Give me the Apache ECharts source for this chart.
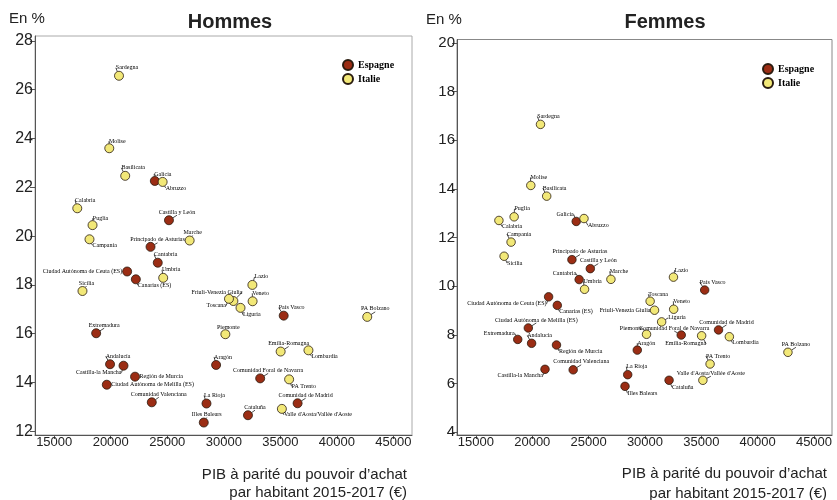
<!DOCTYPE html>
<html><head><meta charset="utf-8">
<script src="https://cdn.jsdelivr.net/npm/echarts@6/dist/echarts.min.js"></script>
<style>html,body{margin:0;padding:0;background:#fff}#c{width:837px;height:500px}</style>
</head><body><div id="c"></div>
<script>
// ---------- DATA ----------
const esNames = ['Galicia','Castilla y León','Principado de Asturias','Cantabria','Ciudad Autónoma de Ceuta (ES)','Canarias (ES)','Extremadura','Andalucía','Castilla-la Mancha','Región de Murcia','Ciudad Autónoma de Melilla (ES)','Comunidad Valenciana','Aragón','La Rioja','Illes Balears','País Vasco','Comunidad Foral de Navarra','Comunidad de Madrid','Cataluña'];
const esGdp    = [23900,25150,23520,24160,21450,22220,18710,19940,21130,22150,19650,23630,29320,28470,28230,35300,33220,36530,32140];
const esHommes = [22.26,20.65,19.56,18.91,18.55,18.23,16.02,14.75,14.69,14.24,13.91,13.19,14.72,13.14,12.36,16.74,14.17,13.15,12.66];
const esFemmes = [12.66,10.72,11.09,10.27,9.56,9.21,7.81,7.65,6.58,7.58,8.28,6.56,7.37,6.36,5.88,9.84,7.99,8.20,6.13];

const itNames = ['Sardegna','Molise','Basilicata','Abruzzo','Calabria','Puglia','Campania','Marche','Umbria','Sicilia','Piemonte','Friuli-Venezia Giulia','Toscana','Lazio','Veneto','Liguria','PA Bolzano','Emilia-Romagna','Lombardia','PA Trento',"Valle d'Aosta/Vallée d'Aoste"];
const itGdp    = [20730,19870,21280,24590,17040,18390,18120,26980,24640,17500,30140,30850,30460,32530,32550,31480,42690,35030,37490,35780,35140];
const itHommes = [26.57,23.6,22.47,22.22,21.14,20.45,19.87,19.82,18.29,17.75,15.98,17.34,17.43,18.0,17.33,17.06,16.69,15.27,15.32,14.13,12.92];
const itFemmes = [16.65,14.14,13.70,12.78,12.70,12.85,11.81,10.28,9.87,11.23,8.02,9.01,9.38,10.37,9.05,8.53,7.28,7.96,7.92,6.80,6.13];

const xTicks  = [15000,20000,25000,30000,35000,40000,45000];
const yTicksH = [12,14,16,18,20,22,24,26,28];
const yTicksF = [4,6,8,10,12,14,16,18,20];

// ---------- label placement (mode, dx, dy relative to dot) ----------
const labH = {
  'Galicia':['c',8,-7],'Castilla y León':['c',8,-8],'Principado de Asturias':['c',7,-7],'Cantabria':['c',8,-8],
  'Ciudad Autónoma de Ceuta (ES)':['r',-5,0],'Canarias (ES)':['l',2,6],'Extremadura':['c',8,-8],'Andalucía':['c',8,-8],
  'Castilla-la Mancha':['r',-2,7],'Región de Murcia':['l',4.5,0],'Ciudad Autónoma de Melilla (ES)':['l',4.5,0],
  'Comunidad Valenciana':['c',7,-8],'Aragón':['c',7,-8],'La Rioja':['c',8,-8],'Illes Balears':['c',3,-8],
  'País Vasco':['c',8,-8],'Comunidad Foral de Navarra':['c',8,-8],'Comunidad de Madrid':['c',8,-8],'Cataluña':['c',7,-8],
  'Sardegna':['c',8,-8],'Molise':['c',8,-7],'Basilicata':['c',8,-8],'Abruzzo':['l',3,6],'Calabria':['c',8,-8],
  'Puglia':['c',8,-7],'Campania':['l',3,6],'Marche':['c',3,-8],'Umbria':['c',8,-8],'Sicilia':['c',4,-8],
  'Piemonte':['c',3,-7],'Friuli-Venezia Giulia':['r',9,-9],'Toscana':['r',-3,7],'Lazio':['c',9,-8],'Veneto':['c',8,-8],
  'Liguria':['l',2.5,7],'PA Bolzano':['c',8,-8],'Emilia-Romagna':['c',8,-8],'Lombardia':['l',3,6],'PA Trento':['l',2.5,7],
  "Valle d'Aosta/Vallée d'Aoste":['l',2,6]
};
const labF = {
  'Galicia':['r',-2.5,-7],'Castilla y León':['c',8,-8],'Principado de Asturias':['c',8,-8],'Cantabria':['r',-3,-6],
  'Ciudad Autónoma de Ceuta (ES)':['r',-2,7],'Canarias (ES)':['l',2,6],'Extremadura':['r',-3,-6],'Andalucía':['c',8,-8],
  'Castilla-la Mancha':['r',-2,6],'Región de Murcia':['l',2.5,6],'Ciudad Autónoma de Melilla (ES)':['c',8,-8],
  'Comunidad Valenciana':['c',8,-8],'Aragón':['c',9,-7],'La Rioja':['c',9,-8],'Illes Balears':['l',2.5,7],
  'País Vasco':['c',8,-8],'Comunidad Foral de Navarra':['c',-7,-7],'Comunidad de Madrid':['c',8,-8],'Cataluña':['l',3,7],
  'Sardegna':['c',8,-8],'Molise':['c',8,-8],'Basilicata':['c',8,-8],'Abruzzo':['l',4,7],'Calabria':['l',3,6],
  'Puglia':['c',8,-8],'Campania':['c',8,-8],'Marche':['c',8,-8],'Umbria':['c',8,-8],'Sicilia':['l',3,7],
  'Piemonte':['r',-4,-6],'Friuli-Venezia Giulia':['r',-4,0],'Toscana':['c',8,-7],'Lazio':['c',8,-7],'Veneto':['c',8,-8],
  'Liguria':['l',6.5,-4],'PA Bolzano':['c',8,-8],'Emilia-Romagna':['c',-16,8],'Lombardia':['l',3,6],'PA Trento':['c',8,-8],
  "Valle d'Aosta/Vallée d'Aoste":['c',8,-7]
};

// ---------- build ----------
const chart = echarts.init(document.getElementById('c'), null, {renderer:'canvas'});
const COL_ES = '#9b2d14', COL_IT = '#f2e878', EDGE = '#2a1c10';
const SERIF = '"Liberation Serif", "DejaVu Serif", serif';
const SANS = '"Liberation Sans", Arial, sans-serif';

function mk(names, xs, ys){ return names.map((n,i)=>({name:n, value:[xs[i], ys[i]]})); }

function layoutFor(map){
  return function(p){
    const spec = map[p.text] || ['c',8,-8];
    const sc = p.rect.x + p.rect.width/2, sy = p.rect.y + p.rect.height/2;
    const lr = p.labelRect;
    let dx;
    if (spec[0]==='l') dx = sc + spec[1] - lr.x;
    else if (spec[0]==='r') dx = sc + spec[1] - (lr.x + lr.width);
    else dx = sc + spec[1] - (lr.x + lr.width/2);
    const dy = sy + spec[2] - (lr.y + lr.height/2);
    // leader line: from dot centre to nearest point of moved label box
    const nx = lr.x + dx, ny = lr.y + dy;
    const px = Math.min(Math.max(sc, nx + 1), nx + lr.width - 1);
    const py = Math.min(Math.max(sy, ny + 1), ny + lr.height - 1);
    return {dx: dx, dy: dy, labelLinePoints: [[sc, sy], [(sc+px)/2, (sy+py)/2], [px, py]]};
  };
}

function series(name, color, data, gi, size, map){
  return {
    name: name, type:'scatter', xAxisIndex:gi, yAxisIndex:gi, data:data,
    symbolSize:size,
    itemStyle:{color:color, borderColor:EDGE, borderWidth:0.8, opacity:1},
    label:{show:true, position:'inside', formatter:'{b}', fontSize:6, fontFamily:SERIF, color:'#000'},
    labelLine:{show:true, length2:0, smooth:false, z:10, lineStyle:{color:'#000', width:0.7}},
    labelLayout: layoutFor(map),
    emphasis:{disabled:true}
  };
}

function xAx(gi, min, max){
  return {
    gridIndex:gi, type:'value', min:min, max:max,
    axisLine:{show:true, onZero:false, lineStyle:{color:'#555', width:1}},
    axisTick:{show:true, length:4, customValues:xTicks, lineStyle:{color:'#555'}},
    axisLabel:{customValues:xTicks, fontSize:13, fontFamily:SANS, color:'#222', margin:1, formatter:v=>String(v)},
    splitLine:{show:false}
  };
}
function yAx(gi, min, max, ticks, fs){
  return {
    gridIndex:gi, type:'value', min:min, max:max,
    axisLine:{show:true, onZero:false, lineStyle:{color:'#555', width:1}},
    axisTick:{show:true, length:5, customValues:ticks, lineStyle:{color:'#555'}},
    axisLabel:{customValues:ticks, fontSize:fs, fontFamily:SANS, color:'#222', margin:2, formatter:v=>String(v)},
    splitLine:{show:false}
  };
}

const legendBase = {
  orient:'vertical', icon:'circle', itemWidth:10, itemHeight:10, itemGap:2,
  textStyle:{fontFamily:SERIF, fontWeight:'bold', fontSize:10, color:'#000'},
  data:['Espagne','Italie'], selectedMode:false
};

chart.setOption({
  animation:false,
  backgroundColor:'#fff',
  grid:[
    {left:35, top:36, right:425, bottom:65, show:true, borderColor:'#aaa', borderWidth:1},
    {left:457, top:39.5, right:5, bottom:65, show:true, borderColor:'#888', borderWidth:1}
  ],
  xAxis:[xAx(0,13300,46650), xAx(1,13320,46600)],
  yAxis:[yAx(0,11.85,28.2,yTicksH,16), yAx(1,3.88,20.14,yTicksF,15)],
  legend:[
    Object.assign({left:337, top:54}, legendBase),
    Object.assign({left:757, top:58}, legendBase)
  ],
  graphic:[
    {type:'text', x:230, y:22, style:{text:'Hommes', font:'bold 20px '+SANS, fill:'#222', textAlign:'center', textVerticalAlign:'middle'}},
    {type:'text', x:665, y:22, style:{text:'Femmes', font:'bold 20px '+SANS, fill:'#222', textAlign:'center', textVerticalAlign:'middle'}},
    {type:'text', x:9, y:19, style:{text:'En %', font:'15px '+SANS, fill:'#222', textAlign:'left', textVerticalAlign:'middle'}},
    {type:'text', x:426, y:20, style:{text:'En %', font:'15px '+SANS, fill:'#222', textAlign:'left', textVerticalAlign:'middle'}},
    {type:'text', x:407, y:475, style:{text:'PIB à parité du pouvoir d\u2019achat', font:'15px '+SANS, fill:'#222', textAlign:'right', textVerticalAlign:'middle'}},
    {type:'text', x:407, y:493, style:{text:'par habitant 2015-2017 (€)', font:'15px '+SANS, fill:'#222', textAlign:'right', textVerticalAlign:'middle'}},
    {type:'text', x:827, y:474, style:{text:'PIB à parité du pouvoir d\u2019achat', font:'15px '+SANS, fill:'#222', textAlign:'right', textVerticalAlign:'middle'}},
    {type:'text', x:827, y:494, style:{text:'par habitant 2015-2017 (€)', font:'15px '+SANS, fill:'#222', textAlign:'right', textVerticalAlign:'middle'}}
  ],
  series:[
    series('Espagne', COL_ES, mk(esNames, esGdp, esHommes), 0, 9, labH),
    series('Italie',  COL_IT, mk(itNames, itGdp, itHommes), 0, 9, labH),
    series('Espagne', COL_ES, mk(esNames, esGdp, esFemmes), 1, 8.5, labF),
    series('Italie',  COL_IT, mk(itNames, itGdp, itFemmes), 1, 8.5, labF)
  ]
});
</script>
</body></html>
